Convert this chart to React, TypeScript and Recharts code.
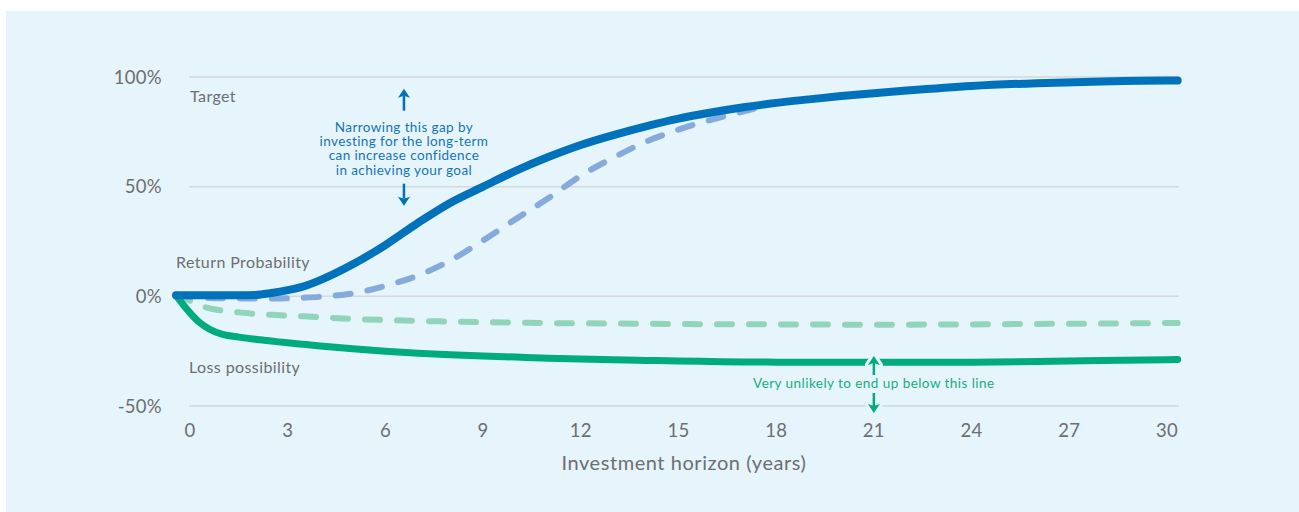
import { LineChart, Line, XAxis, YAxis, CartesianGrid, ReferenceDot, Label } from "recharts";

const BG = "#e6f4fb";
const GREY = "#6d6e71";
const BLUE = "#0072bc";
const BLUE_LIGHT = "#87aadc";
const GREEN = "#00ac7e";
const GREEN_LIGHT = "#90d4ba";

const years = [-0.43, 0, 0.3, 0.6, 1, 1.5, 2, 2.5, 3, 3.5, 4, 5, 6, 7, 8, 9, 10, 11, 12, 13, 14, 15, 16, 17, 18, 19, 20, 21, 22, 24, 26, 28, 30, 30.33];
const upperLong = [0.5, 0.5, 0.5, 0.5, 0.5, 0.5, 0.6, 1.5, 2.8, 4.6, 7.4, 14.6, 23.4, 33.5, 42.7, 50, 57.2, 63.5, 69, 73.5, 77.5, 81, 83.8, 86.2, 88.2, 89.8, 91.3, 92.6, 93.8, 95.9, 97.2, 98, 98.4, 98.4];
const upperShort = [0.5, -0.3, -0.6, -0.8, -0.9, -1, -1, -1, -0.9, -0.6, -0.2, 1.3, 4.8, 9.5, 16.4, 25.5, 35.2, 44.7, 55, 63.2, 70.5, 76, 80.5, 84.3, 88.2, 89.8, 91.3, 92.6, 93.8, 95.9, 97.2, 98, 98.4, 98.4];
const lowerShort = [0.5, -2, -4, -5.5, -6.5, -7.3, -8, -8.4, -8.8, -9.1, -9.5, -10.3, -10.8, -11.2, -11.5, -11.8, -12, -12.2, -12.3, -12.4, -12.5, -12.6, -12.7, -12.7, -12.8, -12.8, -12.9, -12.9, -12.9, -12.8, -12.6, -12.4, -12.2, -12.2];
const lowerLong = [0.5, -7.5, -12, -15, -17.3, -18.6, -19.6, -20.4, -21.2, -21.9, -22.6, -23.9, -25, -25.9, -26.6, -27.2, -27.7, -28.2, -28.6, -28.9, -29.2, -29.5, -29.7, -29.9, -30, -30.1, -30.1, -30.1, -30.1, -30, -29.7, -29.3, -28.9, -28.8];

const xTicks = [0, 3, 6, 9, 12, 15, 18, 21, 24, 27, 30];
const yTicks = [-50, 0, 50, 100];
const gapNote = ["Narrowing this gap by", "investing for the long-term", "can increase confidence", "in achieving your goal"];
const floorNote = "Very unlikely to end up below this line";

const data = years.map((x, i) => ({
  x,
  upperLong: upperLong[i],
  upperShort: upperShort[i],
  lowerShort: lowerShort[i],
  lowerLong: lowerLong[i],
}));

function Arrow({ x, from, to, color, halo }: { x: number; from: number; to: number; color: string; halo?: boolean }) {
  const dir = to < from ? -1 : 1;
  const base = to - dir * 9;
  const notch = base + dir * 2;
  const head = `M${x},${to} L${x + 6},${base} L${x},${notch} L${x - 6},${base} Z`;
  return (
    <g>
      {halo && <path d={head} fill={BG} stroke={BG} strokeWidth={6} strokeLinejoin="round" />}
      <line x1={x} y1={from} x2={x} y2={notch} stroke={color} strokeWidth={2.5} />
      <path d={head} fill={color} />
    </g>
  );
}

const sideLabel = (text: string, dx: number, dy: number) => (p: any) => (
  <text x={p.cx + dx} y={p.cy + dy} fill={GREY} fontSize={16} letterSpacing={0.4}>
    {text}
  </text>
);

const gapShape = (p: any) => (
  <g>
    <Arrow x={p.cx} from={p.cy - 76} to={p.cy - 98} color={BLUE} />
    {gapNote.map((t, i) => (
      <text key={t} x={p.cx} y={p.cy - 55 + i * 14.4} textAnchor="middle" fill="#1574bb" fontSize={13.5} letterSpacing={0.4}>
        {t}
      </text>
    ))}
    <Arrow x={p.cx} from={p.cy - 3} to={p.cy + 19} color={BLUE} />
  </g>
);

const floorShape = (p: any) => (
  <g>
    <Arrow x={p.cx} from={p.cy - 31} to={p.cy - 50} color={GREEN} halo />
    <text x={p.cx} y={p.cy - 18.5} textAnchor="middle" fill="#17ad80" fontSize={13.5} letterSpacing={0.45}>
      {floorNote}
    </text>
    <Arrow x={p.cx} from={p.cy - 13} to={p.cy + 7} color={GREEN} halo />
  </g>
);

export default function App() {
  return (
    <div
      style={{
        position: "absolute",
        left: 6,
        top: 11,
        width: 1293,
        height: 501,
        background: BG,
        fontFamily: "Lato, 'Open Sans', sans-serif",
      }}
    >
      <LineChart width={1293} height={501} data={data} margin={{ top: 66, right: 120, left: 90, bottom: 36 }}>
        <CartesianGrid vertical={false} stroke="#d3d9dc" strokeWidth={1.5} x={183} width={990} />
        <XAxis
          dataKey="x"
          type="number"
          domain={[-0.43, 30.37]}
          ticks={xTicks}
          axisLine={false}
          tickLine={false}
          tickSize={0}
          tickMargin={18}
          height={70}
          tick={{ fill: GREY, fontSize: 18.5, letterSpacing: 0.3 }}
        >
          <Label value="Investment horizon (years)" position="insideBottom" offset={6} dx={6.5} fill={GREY} fontSize={20} letterSpacing={0.55} />
        </XAxis>
        <YAxis
          type="number"
          domain={[-50, 100]}
          ticks={yTicks}
          axisLine={false}
          tickLine={false}
          tickSize={0}
          tickMargin={14}
          width={80}
          tickFormatter={(v) => `${v}%`}
          tick={{ fill: GREY, fontSize: 18.5, letterSpacing: 0.3 }}
        />
        <Line dataKey="lowerShort" type="monotone" stroke={GREEN_LIGHT} strokeWidth={6} strokeDasharray="15 17" strokeLinecap="round" dot={false} activeDot={false} isAnimationActive={false} />
        <Line dataKey="upperShort" type="monotone" stroke={BLUE_LIGHT} strokeWidth={6} strokeDasharray="15 17" strokeLinecap="round" dot={false} activeDot={false} isAnimationActive={false} />
        <Line dataKey="lowerLong" type="monotone" stroke={GREEN} strokeWidth={7} strokeLinecap="round" dot={false} activeDot={false} isAnimationActive={false} />
        <Line dataKey="upperLong" type="monotone" stroke={BLUE} strokeWidth={8} strokeLinecap="round" dot={false} activeDot={false} isAnimationActive={false} />
        <ReferenceDot x={0} y={100} shape={sideLabel("Target", 0, 24.5)} />
        <ReferenceDot x={-0.43} y={0} shape={sideLabel("Return Probability", 0, -28.5)} />
        <ReferenceDot x={0} y={-50} shape={sideLabel("Loss possibility", -1, -33.5)} />
        <ReferenceDot x={6.57} y={50} shape={gapShape} />
        <ReferenceDot x={21} y={-50} shape={floorShape} />
      </LineChart>
    </div>
  );
}
